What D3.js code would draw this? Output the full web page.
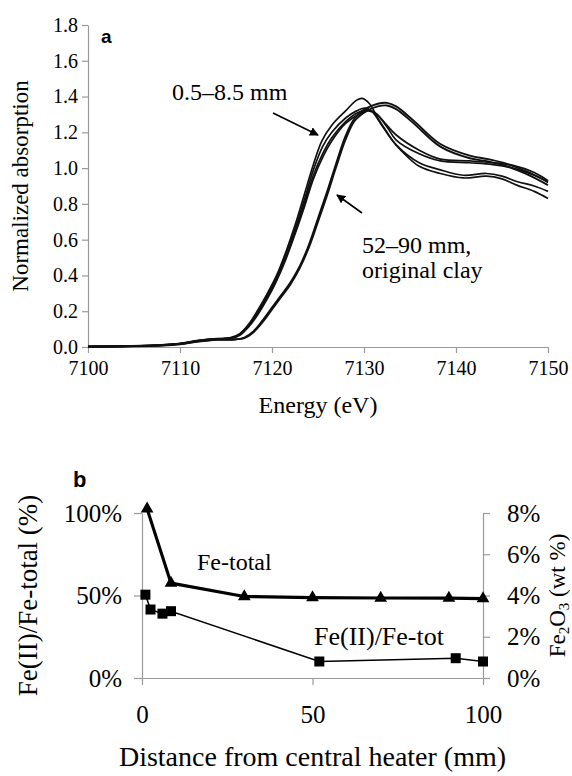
<!DOCTYPE html>
<html>
<head>
<meta charset="utf-8">
<script src="https://cdn.jsdelivr.net/npm/d3@7"></script>
<style>
  html, body { margin: 0; padding: 0; background: #fff; }
  svg { display: block; }
</style>
</head>
<body>
<svg id="chart" width="572" height="776"></svg>
<script>
// ---------- Panel a: Fe K-edge XANES spectra ----------
const energyTicks = [7100, 7110, 7120, 7130, 7140, 7150];
const absorptionTicks = [0, 0.2, 0.4, 0.6, 0.8, 1.0, 1.2, 1.4, 1.6, 1.8];

// 0.5–8.5 mm samples (thin lines): [energy eV, normalized absorption]
const specNear1 = [[7100,0.000],[7104,0.004],[7108,0.010],[7110,0.018],[7112,0.035],[7114,0.046],[7115.5,0.052],[7116.5,0.075],[7117.5,0.13],[7118.5,0.21],[7119.5,0.30],[7120.5,0.40],[7121.5,0.53],[7122.5,0.68],[7123.5,0.85],[7124.5,1.02],[7125.4,1.15],[7126.5,1.24],[7128,1.32],[7129.2,1.38],[7129.8,1.39],[7130.6,1.36],[7131.5,1.28],[7132.5,1.20],[7133.5,1.13],[7136,1.03],[7138.3,0.99],[7140.8,0.96],[7143.3,0.97],[7145,0.955],[7146.6,0.925],[7148.5,0.90],[7150,0.87]];
const specNear2 = [[7100,0.004],[7104,0.006],[7108,0.012],[7110,0.020],[7112,0.037],[7114,0.047],[7115.5,0.050],[7116.5,0.072],[7117.5,0.125],[7118.5,0.20],[7119.5,0.29],[7120.5,0.39],[7121.5,0.52],[7122.5,0.66],[7123.5,0.82],[7124.5,0.99],[7125.5,1.12],[7126.5,1.20],[7128,1.28],[7129.2,1.32],[7130.1,1.335],[7130.8,1.32],[7131.8,1.25],[7133,1.16],[7134,1.10],[7136,1.01],[7138.3,0.97],[7140.8,0.945],[7143.3,0.955],[7145,0.94],[7146.6,0.905],[7148.5,0.87],[7150,0.83]];
const specNear3 = [[7100,0.002],[7104,0.005],[7108,0.011],[7110,0.019],[7112,0.036],[7114,0.045],[7115.5,0.050],[7116.5,0.070],[7117.5,0.12],[7118.5,0.19],[7119.5,0.28],[7120.5,0.38],[7121.5,0.50],[7122.5,0.64],[7123.5,0.80],[7124.5,0.96],[7125.5,1.08],[7126.5,1.17],[7128,1.26],[7129.3,1.31],[7130.3,1.325],[7131.2,1.31],[7132.3,1.25],[7133.5,1.185],[7136,1.10],[7138.3,1.05],[7141.5,1.04],[7144,1.03],[7146.2,1.015],[7148.5,0.975],[7150,0.93]];
const specNear4 = [[7100,0.003],[7104,0.004],[7108,0.009],[7110,0.017],[7112,0.033],[7114,0.044],[7115.5,0.048],[7116.5,0.066],[7117.5,0.115],[7118.5,0.185],[7119.5,0.27],[7120.5,0.37],[7121.5,0.49],[7122.5,0.63],[7123.5,0.78],[7124.5,0.94],[7125.6,1.07],[7126.6,1.16],[7128,1.25],[7129.4,1.30],[7130.5,1.32],[7131.4,1.30],[7132.5,1.23],[7133.5,1.157],[7136,1.08],[7138.3,1.04],[7141.5,1.03],[7144,1.02],[7146.2,1.00],[7148.5,0.96],[7150,0.92]];

// 52–90 mm and original clay (drawn as a close double line)
const specFar1 = [[7100,0.000],[7104,0.003],[7108,0.008],[7110,0.015],[7112,0.030],[7114,0.040],[7116,0.042],[7117,0.052],[7118,0.088],[7119,0.15],[7120,0.22],[7121,0.29],[7122,0.36],[7123,0.45],[7124,0.57],[7125,0.72],[7126,0.87],[7127,1.03],[7128,1.18],[7129,1.28],[7130.3,1.335],[7131.5,1.36],[7132.5,1.365],[7133.5,1.345],[7135.4,1.265],[7138.3,1.135],[7141.5,1.07],[7143.5,1.05],[7145.1,1.03],[7147.5,0.985],[7150,0.925]];
const specFar2 = [[7100,0.003],[7104,0.005],[7108,0.010],[7110,0.017],[7112,0.032],[7114,0.041],[7116,0.043],[7117,0.050],[7118,0.083],[7119,0.14],[7120,0.21],[7121,0.28],[7122,0.35],[7123,0.44],[7124,0.555],[7125,0.70],[7126,0.85],[7127,1.01],[7128,1.16],[7129,1.265],[7130.3,1.32],[7131.5,1.345],[7132.5,1.35],[7133.5,1.33],[7135.4,1.25],[7138.3,1.12],[7141.5,1.055],[7143.5,1.037],[7145.1,1.017],[7147.5,0.97],[7150,0.905]];

const nearSpectra = [specNear1, specNear2, specNear3, specNear4];
const farSpectra = [specFar1, specFar2];

// ---------- Panel b: iron profile versus distance ----------
const distTicks = [0, 50, 100];
const ratioTicks = [0, 0.5, 1.0];
const oxideTicks = [0, 2, 4, 6, 8];

// Fe-total as Fe2O3 (wt %), right axis
const feTotalDist = [1.5, 8.5, 30, 50, 70, 90, 100];
const feTotalWt   = [8.2, 4.6, 3.95, 3.9, 3.88, 3.87, 3.85];

// Fe(II)/Fe-total ratio, left axis
const fe2Dist  = [1, 2.5, 6, 8.5, 52, 92, 100];
const fe2Ratio = [0.505, 0.415, 0.39, 0.405, 0.10, 0.12, 0.10];

const SERIF = "'Times New Roman', 'Liberation Serif', Tinos, 'DejaVu Serif', 'Noto Serif', serif";
const SANS = "'Liberation Sans', Arial, 'DejaVu Sans', sans-serif";

const svg = d3.select("#chart").attr("font-family", SERIF);
const axisGrey = "#9a9a9a";

function styleAxis(g) {
  g.attr("font-family", SERIF);
  g.select(".domain").attr("stroke", axisGrey).attr("stroke-width", 1.2);
  g.selectAll(".tick line").attr("stroke", axisGrey).attr("stroke-width", 1.2);
  g.selectAll(".tick text").attr("fill", "#000").style("font-family", SERIF);
}

function label(parent, size) {
  return parent.append("text").attr("fill", "#000").style("font-family", SERIF).attr("font-size", size);
}

// ----- Panel a -----
const xA = d3.scaleLinear().domain([7100, 7150]).range([88, 548]);
const yA = d3.scaleLinear().domain([0, 1.8]).range([347, 25]);

const gA = svg.append("g");

gA.append("g")
  .attr("transform", `translate(0,${yA(0)})`)
  .call(d3.axisBottom(xA).tickValues(energyTicks).tickFormat(d3.format("d")).tickSize(6).tickSizeOuter(0).tickPadding(8))
  .call(styleAxis)
  .call(g => g.selectAll(".tick text").attr("font-size", 20));

gA.append("g")
  .attr("transform", `translate(${xA(7100)},0)`)
  .call(d3.axisLeft(yA).tickValues(absorptionTicks).tickFormat(d3.format(".1f")).tickSize(6).tickSizeOuter(0).tickPadding(4))
  .call(styleAxis)
  .call(g => g.selectAll(".tick text").attr("font-size", 20));

const lineA = d3.line()
  .x(d => xA(d[0]))
  .y(d => yA(d[1]))
  .curve(d3.curveCatmullRom.alpha(0.5));

gA.selectAll("path.near")
  .data(nearSpectra)
  .join("path")
  .attr("class", "near")
  .attr("fill", "none")
  .attr("stroke", "#111")
  .attr("stroke-width", 1.7)
  .attr("d", lineA);

gA.selectAll("path.far")
  .data(farSpectra)
  .join("path")
  .attr("class", "far")
  .attr("fill", "none")
  .attr("stroke", "#111")
  .attr("stroke-width", 1.9)
  .attr("d", lineA);

gA.append("text").style("font-family", SANS).attr("font-weight", "bold")
  .attr("x", 101).attr("y", 43).attr("font-size", 19).text("a");

label(gA, 23)
  .attr("transform", `translate(28,${(yA(0) + yA(1.8)) / 2}) rotate(-90)`)
  .attr("text-anchor", "middle")
  .text("Normalized absorption");

label(gA, 24)
  .attr("x", (xA(7100) + xA(7150)) / 2).attr("y", 413)
  .attr("text-anchor", "middle")
  .text("Energy (eV)");

label(gA, 24).attr("x", 172).attr("y", 100).text("0.5–8.5 mm");
label(gA, 24).attr("x", 362).attr("y", 253).text("52–90 mm,");
label(gA, 24).attr("x", 362).attr("y", 278).text("original clay");

// annotation arrows
const defs = svg.append("defs");
defs.append("marker")
  .attr("id", "arrowhead")
  .attr("viewBox", "0 0 10 10")
  .attr("refX", 9).attr("refY", 5)
  .attr("markerWidth", 9).attr("markerHeight", 9)
  .attr("markerUnits", "userSpaceOnUse")
  .attr("orient", "auto")
  .append("path")
  .attr("d", "M0,0 L10,5 L0,10 Z")
  .attr("fill", "#000");

[[273, 113, 318, 135], [362, 213, 337, 195]].forEach(a => {
  gA.append("line")
    .attr("x1", a[0]).attr("y1", a[1]).attr("x2", a[2]).attr("y2", a[3])
    .attr("stroke", "#000").attr("stroke-width", 1.6)
    .attr("marker-end", "url(#arrowhead)");
});

// ----- Panel b -----
const xB = d3.scaleLinear().domain([0, 100]).range([142, 483]);
const yL = d3.scaleLinear().domain([0, 1]).range([678, 513]);
const yR = d3.scaleLinear().domain([0, 8]).range([678, 513]);

const gB = svg.append("g");

gB.append("g")
  .attr("transform", `translate(0,${yL(0)})`)
  .call(d3.axisBottom(xB).tickValues(distTicks).tickFormat(d3.format("d")).tickSize(7).tickSizeOuter(0).tickPadding(20))
  .call(styleAxis)
  .call(g => g.selectAll(".tick text").attr("font-size", 25));

gB.append("g")
  .attr("transform", `translate(${xB(0)},0)`)
  .call(d3.axisLeft(yL).tickValues(ratioTicks).tickFormat(d3.format(".0%")).tickSize(8).tickSizeOuter(0).tickPadding(12))
  .call(styleAxis)
  .call(g => g.selectAll(".tick text").attr("font-size", 25));

gB.append("g")
  .attr("transform", `translate(${xB(100)},0)`)
  .call(d3.axisRight(yR).tickValues(oxideTicks).tickFormat(d => d + "%").tickSize(7).tickSizeOuter(0).tickPadding(17))
  .call(styleAxis)
  .call(g => g.selectAll(".tick text").attr("font-size", 25));

const feTotal = feTotalDist.map((d, i) => [d, feTotalWt[i]]);
const fe2 = fe2Dist.map((d, i) => [d, fe2Ratio[i]]);

gB.append("path")
  .datum(feTotal)
  .attr("fill", "none").attr("stroke", "#000").attr("stroke-width", 3.2)
  .attr("stroke-linejoin", "round")
  .attr("d", d3.line().x(d => xB(d[0])).y(d => yR(d[1])));

gB.append("path")
  .datum(fe2)
  .attr("fill", "none").attr("stroke", "#000").attr("stroke-width", 1.5)
  .attr("d", d3.line().x(d => xB(d[0])).y(d => yL(d[1])));

const tri = d3.symbol().type(d3.symbolTriangle).size(70);
gB.selectAll("path.tri")
  .data(feTotal)
  .join("path")
  .attr("class", "tri")
  .attr("transform", d => `translate(${xB(d[0])},${yR(d[1])})`)
  .attr("d", tri)
  .attr("fill", "#000");

const sq = d3.symbol().type(d3.symbolSquare).size(100);
gB.selectAll("path.sq")
  .data(fe2)
  .join("path")
  .attr("class", "sq")
  .attr("transform", d => `translate(${xB(d[0])},${yL(d[1])})`)
  .attr("d", sq)
  .attr("fill", "#000");

gB.append("text").style("font-family", SANS).attr("font-weight", "bold")
  .attr("x", 73).attr("y", 487).attr("font-size", 22).text("b");

label(gB, 24).attr("x", 197).attr("y", 570).text("Fe-total");
label(gB, 26).attr("x", 314).attr("y", 645).text("Fe(II)/Fe-tot");

label(gB, 27)
  .attr("transform", `translate(37,${(yL(0) + yL(1)) / 2}) rotate(-90)`)
  .attr("text-anchor", "middle")
  .text("Fe(II)/Fe-total (%)");

// right-hand axis title, tucked against the page edge
const rightTitle = label(gB, 23)
  .attr("transform", `translate(565,${(yR(0) + yR(8)) / 2}) rotate(-90)`)
  .attr("text-anchor", "middle");
rightTitle.append("tspan").text("Fe");
rightTitle.append("tspan").attr("font-size", 15).attr("dy", 4).text("2");
rightTitle.append("tspan").attr("dy", -4).text("O");
rightTitle.append("tspan").attr("font-size", 15).attr("dy", 4).text("3");
rightTitle.append("tspan").attr("dy", -4).text(" (wt %)");

label(gB, 28)
  .attr("x", (xB(0) + xB(100)) / 2).attr("y", 766)
  .attr("text-anchor", "middle")
  .text("Distance from central heater (mm)");
</script>
</body>
</html>
